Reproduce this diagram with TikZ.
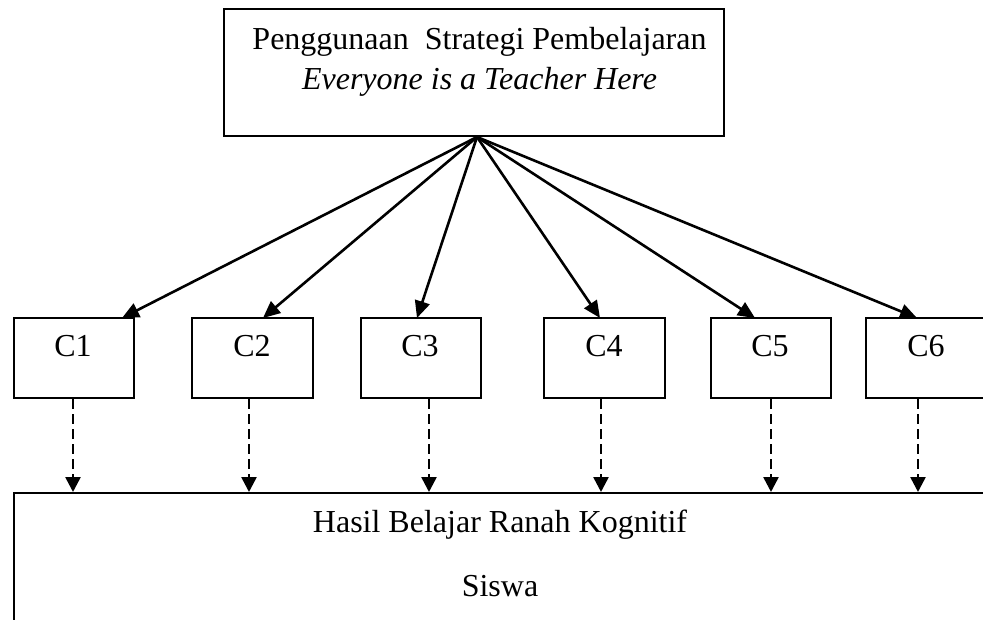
\documentclass[tikz,border=0pt]{standalone}
\usepackage{fontspec}
\setmainfont{Liberation Serif}
\usetikzlibrary{arrows.meta,calc}
\begin{document}
\begin{tikzpicture}[x=1pt,y=-1pt,
  box/.style={draw,line width=2pt,rectangle,inner sep=0pt},
  lbl/.style={anchor=base,inner sep=0pt,font=\fontsize{32}{36}\selectfont},
  solidarrow/.style={line width=2.6pt,-{Triangle[length=17pt,width=15pt]}},
  dasharrow/.style={line width=2.6pt,dash pattern=on 10pt off 5pt,-{Triangle[length=15pt,width=15pt]}}]
\useasboundingbox (0,0) rectangle (983,620);
\clip (0,0) rectangle (983,620);
% top box
\node[box,minimum width=500pt,minimum height=127pt] (top) at (474,72.5) {};
\node[lbl] (t1txt) at (479.5,50) {Penggunaan\ \ Strategi Pembelajaran};
\node[lbl] (t2txt) at (479.5,90) {\itshape Everyone is a Teacher Here};
\coordinate (src) at (477,137);
% C boxes
\node[box,minimum width=120pt,minimum height=80pt] (c1) at (74,358) {};
\node[box,minimum width=121pt,minimum height=80pt] (c2) at (252.5,358) {};
\node[box,minimum width=120pt,minimum height=80pt] (c3) at (421,358) {};
\node[box,minimum width=121pt,minimum height=80pt] (c4) at (604.5,358) {};
\node[box,minimum width=120pt,minimum height=80pt] (c5) at (771,358) {};
\node[box,minimum width=120pt,minimum height=80pt] (c6) at (926,358) {};
\node[lbl] (l1) at (73,357) {C1};
\node[lbl] (l2) at (252,357) {C2};
\node[lbl] (l3) at (420,357) {C3};
\node[lbl] (l4) at (604,357) {C4};
\node[lbl] (l5) at (770,357) {C5};
\node[lbl] (l6) at (926,357) {C6};
% result box
\node[box,minimum width=1000pt,minimum height=160pt] (res) at (514,573) {};
\node[lbl] (r1) at (500,532) {Hasil Belajar Ranah Kognitif};
\node[lbl] (r2) at (500,596) {Siswa};
% arrow tips
\coordinate (a1) at (122,318);
\coordinate (a2) at (263,318);
\coordinate (a3) at (417,318);
\coordinate (a4) at (600,318);
\coordinate (a5) at (755,318);
\coordinate (a6) at (917,318);
\foreach \i in {1,...,6}{\draw[solidarrow] (src) -- (a\i);}
% dashed
\coordinate (d1) at (73,0);
\coordinate (d2) at (249,0);
\coordinate (d3) at (429,0);
\coordinate (d4) at (601,0);
\coordinate (d5) at (771,0);
\coordinate (d6) at (918,0);
\foreach \i in {1,...,6}{\draw[dasharrow] (d\i |- c\i.south) -- (d\i |- res.north);}
\end{tikzpicture}
\end{document}
